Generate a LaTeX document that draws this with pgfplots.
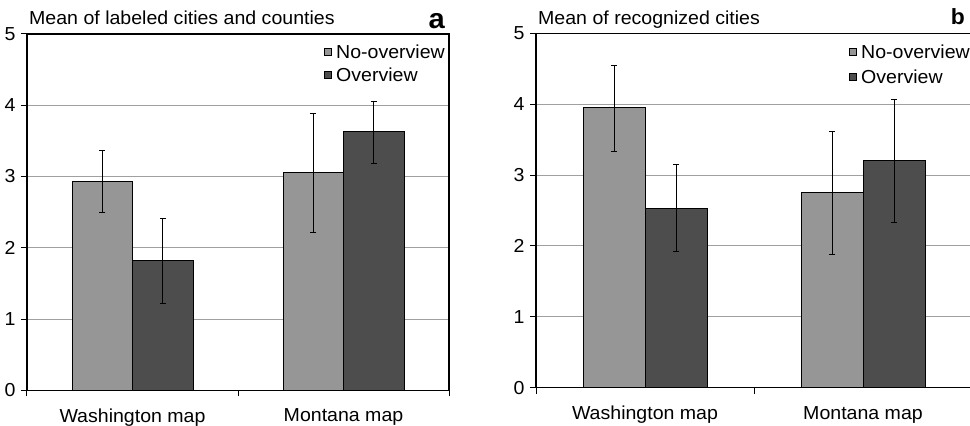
\documentclass[border=0pt]{standalone}
\usepackage{fontspec}
\setmainfont{Liberation Sans}[FakeStretch=1.04]
\usepackage{pgfplots}
\pgfplotsset{compat=1.18}

\definecolor{noov}{HTML}{969696}
\definecolor{ov}{HTML}{4D4D4D}
\definecolor{gridc}{HTML}{A0A0A0}

\newcommand{\lbl}{\fontsize{18.8bp}{21bp}\selectfont}

\pgfplotsset{
  panel/.style={
    scale only axis,
    ybar=0pt,
    xmin=-0.5, xmax=1.5,
    ymin=0, ymax=5,
    ytick={0,1,2,3,4,5},
    xtick={-0.5,0.5,1.5}, xticklabels={},
    extra x ticks={0,1},
    extra x tick labels={Washington map, Montana map},
    extra x tick style={major tick length=0pt, tick label style={yshift=-15bp}},
    xtick pos=bottom, ytick pos=left,
    tick align=outside,
    major tick length=6bp,
    tick style={black, line width=1bp},
    ymajorgrids,
    grid style={gridc, line width=1bp},
    axis line style={black, line width=1.2bp},
    /pgf/number format/assume math mode=true,
    tick label style={font=\lbl},
    yticklabel style={xshift=-2bp},
    every axis title/.style={at={(0,1)}, anchor=base west, inner sep=0pt,
      xshift=2bp, yshift=9bp, font=\lbl},
    legend style={draw=none, fill=none, at={(1,1)}, anchor=north east,
      font=\lbl, inner sep=0pt, row sep=6bp, yshift=-10bp,
      nodes={inner sep=1bp}},
    legend cell align=left,
    legend image code/.code={
      \draw[#1, draw=black, line width=0.8bp] (0bp,-3bp) rectangle (7bp,4bp);
      \path (10bp,0bp);},
    error bars/y dir=both,
    error bars/y explicit,
    error bars/error bar style={black, line width=1bp},
    error bars/error mark options={black, rotate=90, mark size=3bp, line width=1bp},
  },
  bno/.style={fill=noov, draw=black, line width=0.8bp},
  bov/.style={fill=ov, draw=black, line width=0.8bp},
}

\begin{document}
\begin{tikzpicture}
\useasboundingbox (0,0) rectangle (970bp,426bp);

\begin{axis}[panel, name=L,
  at={(27bp,35.7bp)}, anchor=south west,
  width=422bp, height=356.3bp, bar width=60.5bp,
  legend style={xshift=-3bp},
  title={Mean of labeled cities and counties}]
  \addplot[bno] coordinates {
    (0,2.935) += (0,0.435) -= (0,0.445)
    (1,3.06)  += (0,0.83)  -= (0,0.84)
  };
  \addlegendentry{No-overview}
  \addplot[bov] coordinates {
    (0,1.82) += (0,0.59) -= (0,0.60)
    (1,3.63) += (0,0.42) -= (0,0.45)
  };
  \addlegendentry{Overview}
\end{axis}
\node[anchor=base east, inner sep=0pt, font=\fontsize{28bp}{30bp}\selectfont\bfseries]
  at ([xshift=-4bp, yshift=5bp]L.north east) {a};

\begin{axis}[panel, name=R,
  at={(536bp,38.3bp)}, anchor=south west,
  width=436bp, height=354.4bp, bar width=62bp,
  legend style={xshift=-1bp, row sep=8bp},
  every axis title/.append style={yshift=-0.7bp},
  title={Mean of recognized cities}]
  \addplot[bno] coordinates {
    (0,3.95) += (0,0.60) -= (0,0.62)
    (1,2.76) += (0,0.86) -= (0,0.88)
  };
  \addlegendentry{No-overview}
  \addplot[bov] coordinates {
    (0,2.53) += (0,0.62) -= (0,0.61)
    (1,3.20) += (0,0.87) -= (0,0.87)
  };
  \addlegendentry{Overview}
\end{axis}
\node[anchor=base east, inner sep=0pt, font=\fontsize{22bp}{24bp}\selectfont\bfseries]
  at ([xshift=-7bp, yshift=8.3bp]R.north east) {b};
\end{tikzpicture}
\end{document}
